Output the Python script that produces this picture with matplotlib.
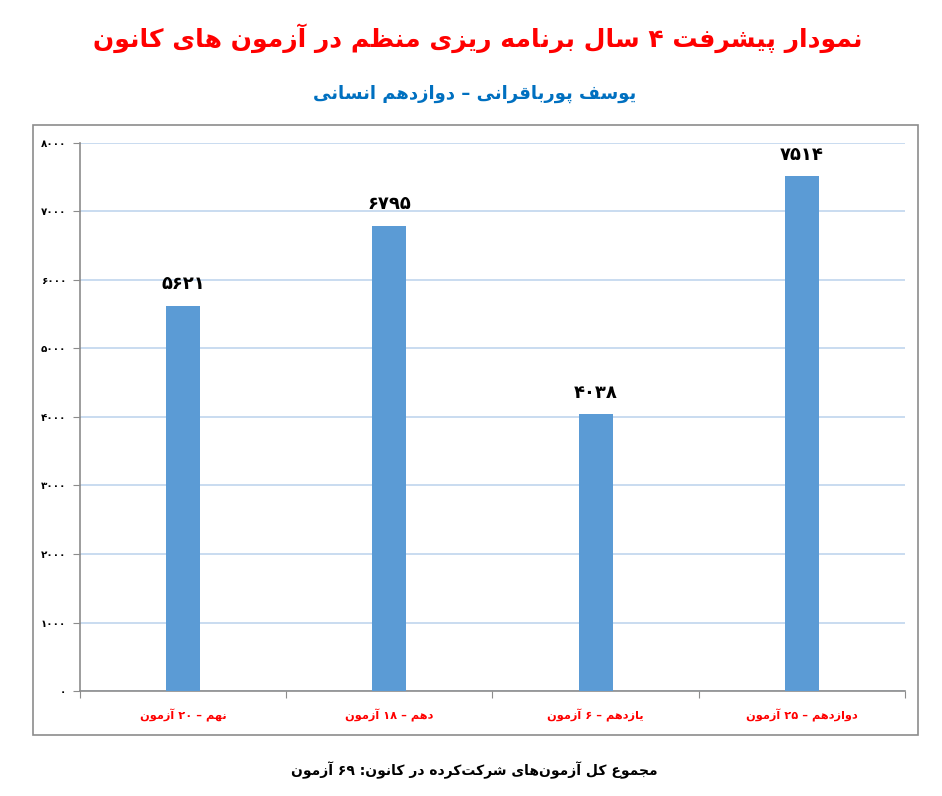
import re

import matplotlib
matplotlib.use("Agg")
import matplotlib.pyplot as plt
from matplotlib.patches import Rectangle
from matplotlib.ticker import FixedLocator, FuncFormatter

plt.rcParams["font.family"] = ["DejaVu Sans"]

TITLE = "نمودار پیشرفت ۴ سال برنامه ریزی منظم در آزمون های کانون"
SUBTITLE = "یوسف پورباقرانی – دوازدهم انسانی"
FOOTER = "مجموع کل آزمون\u200cهای شرکت\u200cکرده در کانون: ۶۹ آزمون"
categories = ["نهم – ۲۰ آزمون", "دهم – ۱۸ آزمون", "یازدهم – ۶ آزمون", "دوازدهم – ۲۵ آزمون"]
scores = [5621, 6795, 4038, 7514]
y_ticks = [0, 1000, 2000, 3000, 4000, 5000, 6000, 7000, 8000]

# presentation forms: isolated, final, initial, medial
FORMS = {
    "ا": (0xFE8D, 0xFE8E, None, None),
    "آ": (0xFE81, 0xFE82, None, None),
    "ب": (0xFE8F, 0xFE90, 0xFE91, 0xFE92),
    "پ": (0xFB56, 0xFB57, 0xFB58, 0xFB59),
    "ت": (0xFE95, 0xFE96, 0xFE97, 0xFE98),
    "ث": (0xFE99, 0xFE9A, 0xFE9B, 0xFE9C),
    "ج": (0xFE9D, 0xFE9E, 0xFE9F, 0xFEA0),
    "چ": (0xFB7A, 0xFB7B, 0xFB7C, 0xFB7D),
    "ح": (0xFEA1, 0xFEA2, 0xFEA3, 0xFEA4),
    "خ": (0xFEA5, 0xFEA6, 0xFEA7, 0xFEA8),
    "د": (0xFEA9, 0xFEAA, None, None),
    "ذ": (0xFEAB, 0xFEAC, None, None),
    "ر": (0xFEAD, 0xFEAE, None, None),
    "ز": (0xFEAF, 0xFEB0, None, None),
    "ژ": (0xFB8A, 0xFB8B, None, None),
    "س": (0xFEB1, 0xFEB2, 0xFEB3, 0xFEB4),
    "ش": (0xFEB5, 0xFEB6, 0xFEB7, 0xFEB8),
    "ص": (0xFEB9, 0xFEBA, 0xFEBB, 0xFEBC),
    "ض": (0xFEBD, 0xFEBE, 0xFEBF, 0xFEC0),
    "ط": (0xFEC1, 0xFEC2, 0xFEC3, 0xFEC4),
    "ظ": (0xFEC5, 0xFEC6, 0xFEC7, 0xFEC8),
    "ع": (0xFEC9, 0xFECA, 0xFECB, 0xFECC),
    "غ": (0xFECD, 0xFECE, 0xFECF, 0xFED0),
    "ف": (0xFED1, 0xFED2, 0xFED3, 0xFED4),
    "ق": (0xFED5, 0xFED6, 0xFED7, 0xFED8),
    "ک": (0xFB8E, 0xFB8F, 0xFB90, 0xFB91),
    "گ": (0xFB92, 0xFB93, 0xFB94, 0xFB95),
    "ل": (0xFEDD, 0xFEDE, 0xFEDF, 0xFEE0),
    "م": (0xFEE1, 0xFEE2, 0xFEE3, 0xFEE4),
    "ن": (0xFEE5, 0xFEE6, 0xFEE7, 0xFEE8),
    "و": (0xFEED, 0xFEEE, None, None),
    "ه": (0xFEE9, 0xFEEA, 0xFEEB, 0xFEEC),
    "ی": (0xFBFC, 0xFBFD, 0xFBFE, 0xFBFF),
}
DIGITS = "۰۱۲۳۴۵۶۷۸۹"


def shape(s):
    out = []
    for i, ch in enumerate(s):
        if ch not in FORMS:
            out.append(ch)
            continue
        prev = s[i - 1] if i > 0 else ""
        nxt = s[i + 1] if i + 1 < len(s) else ""
        pj = prev in FORMS and FORMS[prev][2] is not None
        nj = FORMS[ch][2] is not None and nxt in FORMS
        iso, fin, ini, med = FORMS[ch]
        if pj and nj:
            code = med
        elif pj:
            code = fin
        elif nj:
            code = ini
        else:
            code = iso
        out.append(chr(code))
    return "".join(out)


def fa(s):
    # shape, then lay out right-to-left (digit runs stay left-to-right)
    shaped = shape(s).replace("\u200c", "")
    tokens = re.findall(r"[0-9۰-۹]+|[^0-9۰-۹]+", shaped)
    return "".join(t if t[0] in DIGITS or t[0].isdigit() else t[::-1] for t in reversed(tokens))


def fa_num(n):
    return "".join(DIGITS[int(c)] for c in str(int(n)))


fig = plt.figure(figsize=(9.42, 7.96), dpi=100)
fig.patch.set_facecolor("white")

# chart frame
fig.patches.append(Rectangle((0.035, 0.0766), 0.9395, 0.7664, transform=fig.transFigure,
                             fill=False, edgecolor="#8c8c8c", linewidth=1.2))

ax = fig.add_axes([0.0849, 0.1319, 0.8758, 0.6885])
x = list(range(len(scores)))
ax.bar(x, scores, width=0.165, color="#5b9bd5", zorder=3)

ax.set_xlim(-0.5, 3.5)
ax.set_ylim(0, 8000)
ax.set_yticks(y_ticks)
ax.yaxis.set_major_formatter(FuncFormatter(lambda v, p: fa_num(v)))
ax.grid(axis="y", color="#c0d6ee", linewidth=1.2, zorder=0)

for s in ["top", "right"]:
    ax.spines[s].set_visible(False)
for s in ["left", "bottom"]:
    ax.spines[s].set_color("#8c8c8c")
    ax.spines[s].set_linewidth(1.2)

ax.tick_params(axis="y", length=5, color="#8c8c8c", pad=5, labelsize=7.5)
for lab in ax.get_yticklabels():
    lab.set_fontweight("bold")

ax.xaxis.set_major_locator(FixedLocator([-0.5, 0.5, 1.5, 2.5, 3.5]))
ax.xaxis.set_major_formatter(FuncFormatter(lambda v, p: ""))
ax.tick_params(axis="x", which="major", length=5, color="#8c8c8c")
ax.xaxis.set_minor_locator(FixedLocator(x))
ax.set_xticklabels([fa(c) for c in categories], minor=True)
ax.tick_params(axis="x", which="minor", length=0, pad=13, labelsize=8.2, labelcolor="#ff0000")
for lab in ax.get_xticklabels(minor=True):
    lab.set_fontweight("bold")

for xi, v in zip(x, scores):
    ax.annotate(fa_num(v), (xi, v), xytext=(0, 9), textcoords="offset points",
                ha="center", va="bottom", fontsize=13, fontweight="bold", color="black")

fig.text(0.507, 0.952, fa(TITLE), ha="center", va="center", fontsize=18,
         fontweight="bold", color="#ff0000")
fig.text(0.504, 0.882, fa(SUBTITLE), ha="center", va="center", fontsize=13,
         fontweight="bold", color="#0070c0")
fig.text(0.503, 0.033, fa(FOOTER), ha="center", va="center", fontsize=10,
         fontweight="bold", color="black")

fig.savefig("out.png", dpi=100)
